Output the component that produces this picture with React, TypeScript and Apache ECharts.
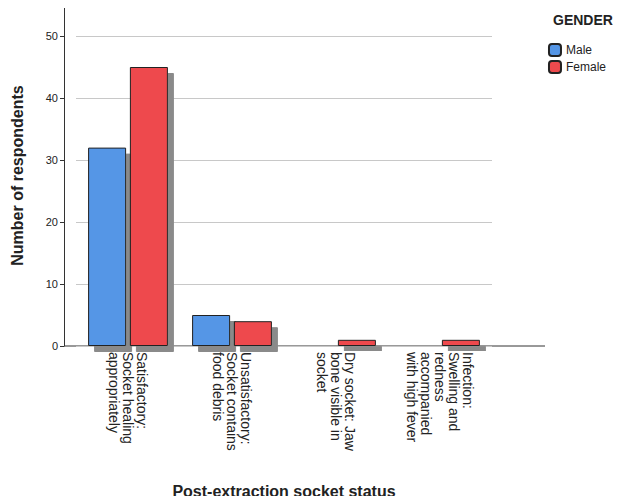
import * as echarts from "echarts"
import { useEffect, useRef } from "react"

const categories = [
  "Satisfactory:\nSocket healing\nappropriately",
  "Unsatisfactory:\nSocket contains\nfood debris",
  "Dry socket: Jaw\nbone visible in\nsocket",
  "Infection:\nSwelling and\nredness\naccompanied\nwith high fever",
]
const male = [32, 5, 0, 0]
const female = [45, 4, 1, 1]

const font = "'Liberation Sans', Arial, sans-serif"
const shadow = { shadowColor: "#8a8a8a", shadowOffsetX: 6, shadowOffsetY: 6, shadowBlur: 0 }

export default function App() {
  const ref = useRef<HTMLDivElement>(null)

  useEffect(() => {
    if (!ref.current) return
    const chart = echarts.init(ref.current, null, { renderer: "svg" })
    chart.setOption({
      animation: false,
      backgroundColor: "#fff",
      textStyle: { fontFamily: font },
      grid: { left: 76, right: 137, top: 5, bottom: 158 },
      legend: {
        right: 18,
        top: 38,
        orient: "vertical",
        itemWidth: 12,
        itemHeight: 12,
        itemGap: 3,
        textStyle: { fontSize: 12, color: "#222" },
        data: ["Male", "Female"],
      },
      graphic: [
        {
          type: "text",
          left: 553,
          top: 13,
          style: { text: "GENDER", font: `bold 14px ${font}`, fill: "#222" },
        },
        {
          type: "line",
          shape: { x1: 64, y1: 346, x2: 545, y2: 346 },
          style: { stroke: "#333", lineWidth: 1 },
        },
      ],
      xAxis: {
        type: "category",
        data: categories,
        name: "Post-extraction socket status",
        nameLocation: "middle",
        nameGap: 137,
        nameTextStyle: { fontSize: 16, fontWeight: "bold", color: "#222" },
        axisLine: { show: false },
        axisTick: { show: false },
        axisLabel: {
          rotate: -90,
          interval: 0,
          fontSize: 14,
          color: "#222",
          lineHeight: 14,
          margin: 6,
        },
      },
      yAxis: {
        type: "value",
        min: 0,
        max: 55,
        interval: 10,
        offset: 12,
        name: "Number of respondents",
        nameLocation: "middle",
        nameGap: 39,
        nameTextStyle: { fontSize: 16, fontWeight: "bold", color: "#222" },
        axisLine: { show: true, lineStyle: { color: "#333" } },
        axisTick: { show: true, length: 4, lineStyle: { color: "#333" } },
        axisLabel: {
          fontSize: 11,
          color: "#222",
          margin: 6,
          formatter: (v: number) => (v > 50 ? "" : String(v)),
        },
        splitLine: { lineStyle: { color: "#c8c8c8" } },
      },
      series: [
        {
          name: "Male",
          type: "bar",
          data: male,
          barWidth: 38,
          barGap: "10%",
          itemStyle: { color: "#5596e6", borderColor: "#222", borderWidth: 1, ...shadow },
        },
        {
          name: "Female",
          type: "bar",
          data: female,
          barWidth: 38,
          barGap: "10%",
          itemStyle: { color: "#ee4a4d", borderColor: "#222", borderWidth: 1, ...shadow },
        },
      ],
    })
    return () => chart.dispose()
  }, [])

  return <div ref={ref} style={{ width: 629, height: 504, margin: -8 }} />
}
